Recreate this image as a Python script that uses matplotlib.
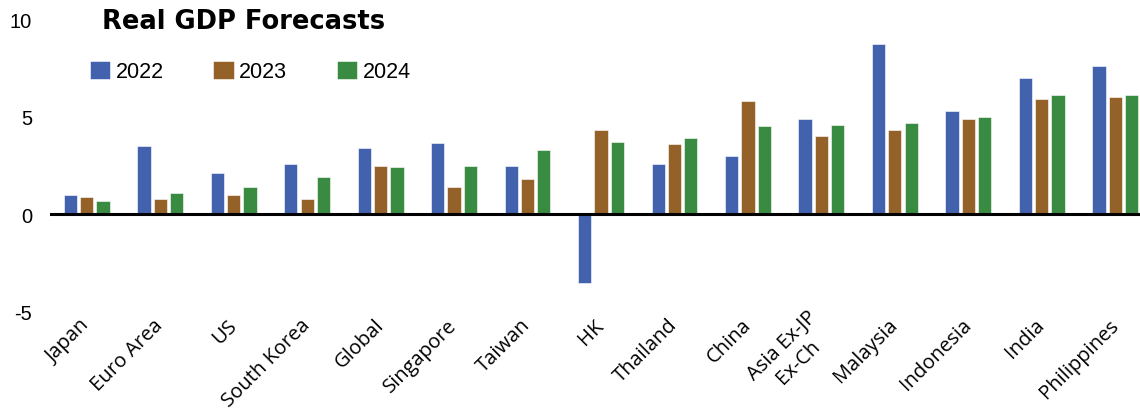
import numpy as np
import matplotlib
matplotlib.use("Agg")
import matplotlib.pyplot as plt

plt.rcParams["axes.unicode_minus"] = False

# Forecast data
countries = ["Japan", "Euro Area", "US", "South Korea", "Global", "Singapore", "Taiwan", "HK",
             "Thailand", "China", "Asia Ex-JP\nEx-Ch", "Malaysia", "Indonesia", "India", "Philippines"]
gdp_2022 = [1.0, 3.5, 2.1, 2.6, 3.4, 3.65, 2.5, -3.5, 2.6, 3.0, 4.9, 8.7, 5.3, 7.0, 7.6]
gdp_2023 = [0.9, 0.8, 1.0, 0.8, 2.5, 1.4, 1.8, 4.3, 3.6, 5.8, 4.0, 4.3, 4.9, 5.9, 6.0]
gdp_2024 = [0.7, 1.1, 1.4, 1.9, 2.4, 2.5, 3.3, 3.7, 3.9, 4.5, 4.55, 4.7, 5.0, 6.1, 6.1]
years = ["2022", "2023", "2024"]
colors = ["#4362ae", "#946228", "#3a8b42"]

fig = plt.figure(figsize=(11.4, 4.14), dpi=100)
# axes runs a little past the right edge, like the original
ax = fig.add_axes([50/1140, 101/414, 1102/1140, 293/414])

x = np.arange(len(countries))
step = 0.222
width = 0.18
for i, (vals, yr, c) in enumerate(zip([gdp_2022, gdp_2023, gdp_2024], years, colors)):
    ax.bar(x + (i - 1)*step, vals, width=width, color=c, label=yr,
           edgecolor="white", linewidth=0.4)

ax.axhline(0, color="black", lw=2.2)
ax.set_xlim(-0.5, len(countries) - 0.5)
ax.set_ylim(-5, 10)
ax.set_yticks([-5, 0, 5, 10])
for s in ax.spines.values():
    s.set_visible(False)
ax.tick_params(axis="y", length=0, pad=13, labelsize=14.5)
for lab in ax.get_yticklabels():
    lab.set_family(["Liberation Sans", "DejaVu Sans"])

ax.set_xticks(x)
ax.set_xticklabels(countries, rotation=45, ha="right", rotation_mode="anchor",
                   va="center", multialignment="center", fontsize=14.5,
                   family=["Open Sans", "DejaVu Sans"])
ax.tick_params(axis="x", length=0, pad=7)

fig.text(102/1140, 1 - 22/414, "Real GDP Forecasts", fontsize=18.5, fontweight="bold",
         va="center", ha="left", family=["DejaVu Sans"])

ax.legend(loc="upper left", bbox_to_anchor=(79/1140, 1 - 51/414), bbox_transform=fig.transFigure,
          ncol=3, frameon=False, borderpad=0, handlelength=0.95, handleheight=0.9,
          handletextpad=0.25, columnspacing=2.3,
          prop={"family": ["Liberation Sans", "DejaVu Sans"], "size": 15.5})

fig.savefig("out.png", dpi=100)
